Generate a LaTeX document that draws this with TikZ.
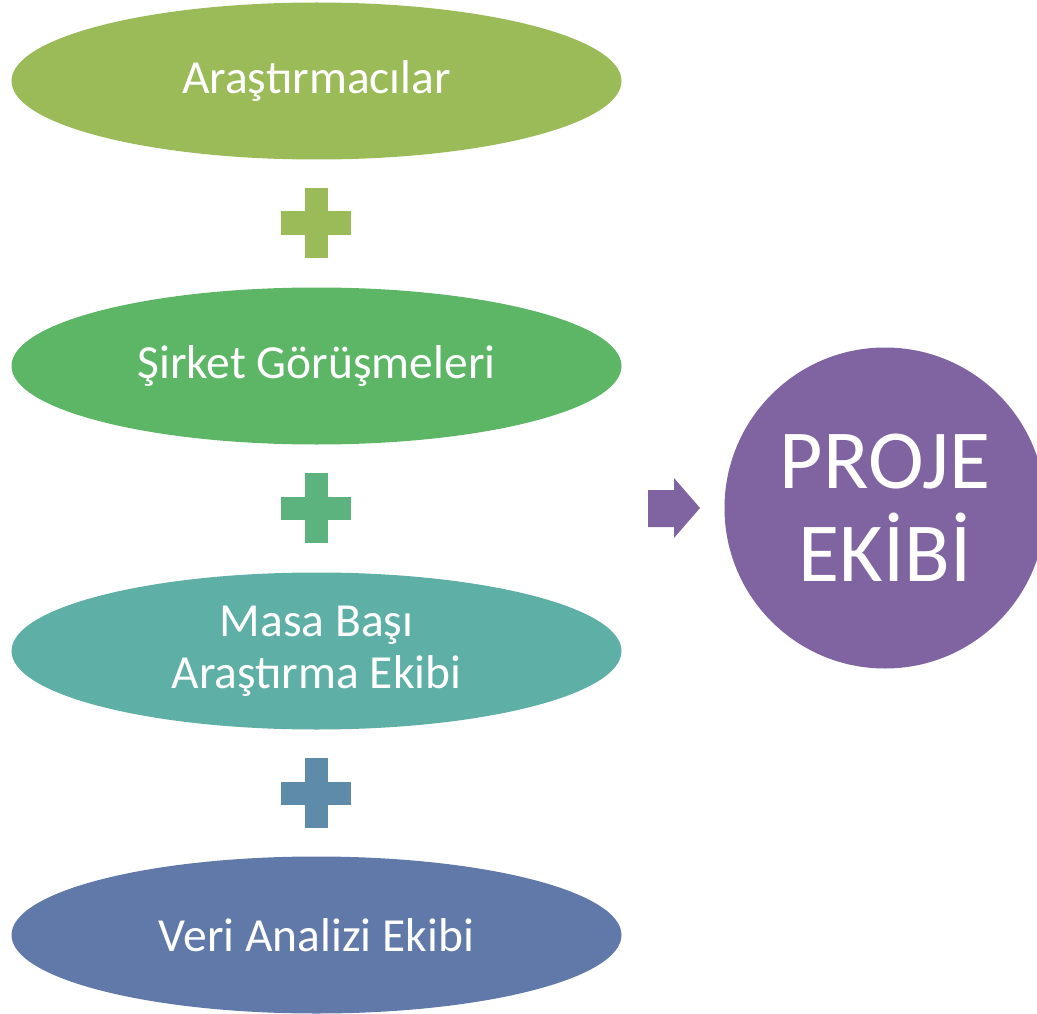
\documentclass[tikz,border=0pt]{standalone}
\usepackage{fontspec}
\setmainfont{Carlito}
\definecolor{cA}{HTML}{9BBB59}
\definecolor{cB}{HTML}{5DB566}
\definecolor{cBp}{HTML}{5CB37E}
\definecolor{cC}{HTML}{5EAFA6}
\definecolor{cCp}{HTML}{5F8BAB}
\definecolor{cD}{HTML}{6079A8}
\definecolor{cE}{HTML}{8064A2}
\tikzset{
  oval/.style={ellipse, minimum width=610pt, minimum height=157pt, inner sep=0pt, text=white, font=\fontsize{47.5}{52}\selectfont, align=center},
  plussign/.pic={\fill[#1] (-11.5,-35) rectangle (11.5,35); \fill[#1] (-35,-11.5) rectangle (35,11.5);}
}
\usetikzlibrary{shapes.geometric}
\begin{document}
\begin{tikzpicture}[x=1pt,y=-1pt]
\useasboundingbox (0,0) rectangle (1037,1014);
\node[oval, fill=cA] (a) at (316.5,81) {Araştırmacılar};
\node[oval, fill=cB] (b) at (316.5,366) {Şirket Görüşmeleri};
\node[oval, fill=cC] (c) at (316.5,651) {Masa Başı\\Araştırma Ekibi};
\node[oval, fill=cD] (d) at (316.5,935) {Veri Analizi Ekibi};
\pic at (316,223) {plussign=cA};
\pic at (316,508) {plussign=cBp};
\pic at (316,793) {plussign=cCp};
\fill[cE] (648,490) -- (674,490) -- (674,478) -- (700,508) -- (674,538) -- (674,527) -- (648,527) -- cycle;
\node[circle, fill=cE, minimum size=321pt, inner sep=0pt, text=white, align=center, font=\fontsize{84}{93}\selectfont] (p) at (885,508) {PROJE\\EKİBİ};
\end{tikzpicture}
\end{document}
